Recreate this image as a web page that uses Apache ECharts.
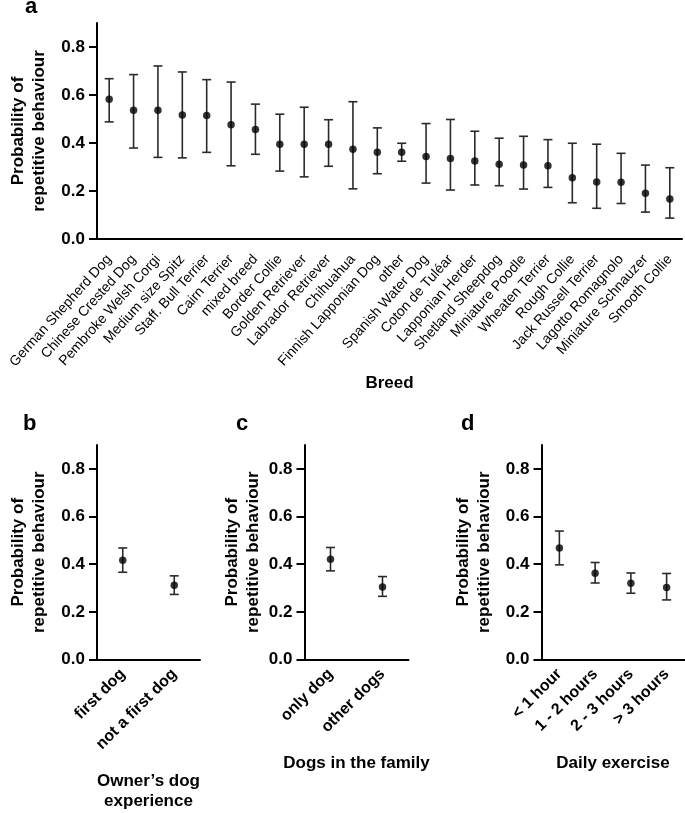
<!DOCTYPE html>
<html>
<head>
<meta charset="utf-8">
<script src="https://cdn.jsdelivr.net/npm/echarts@6/dist/echarts.min.js"></script>
<style>
html,body{margin:0;padding:0;background:#fff;}
#chart{width:685px;height:813px;}
</style>
</head>
<body>
<div id="chart"></div>
<script>
// Panel a: breed
const breeds = ["German Shepherd Dog","Chinese Crested Dog","Pembroke Welsh Corgi","Medium size Spitz","Staff. Bull Terrier","Cairn Terrier","mixed breed","Border Collie","Golden Retriever","Labrador Retriever","Chihuahua","Finnish Lapponian Dog","other","Spanish Water Dog","Coton de Tuléar","Lapponian Herder","Shetland Sheepdog","Miniature Poodle","Wheaten Terrier","Rough Collie","Jack Russell Terrier","Lagotto Romagnolo","Miniature Schnauzer","Smooth Collie"];
const breedMean = [0.582,0.536,0.536,0.517,0.515,0.476,0.456,0.395,0.395,0.395,0.374,0.361,0.361,0.344,0.335,0.325,0.311,0.308,0.305,0.255,0.237,0.236,0.191,0.167];
const breedLow  = [0.488,0.379,0.340,0.338,0.361,0.305,0.353,0.283,0.259,0.303,0.209,0.272,0.324,0.233,0.204,0.225,0.222,0.208,0.215,0.151,0.128,0.148,0.112,0.087];
const breedHigh = [0.668,0.685,0.721,0.696,0.664,0.654,0.562,0.520,0.549,0.497,0.572,0.463,0.399,0.481,0.498,0.449,0.420,0.428,0.414,0.399,0.395,0.357,0.308,0.297];

// Panel b: owner's dog experience
const expCats = ["first dog","not a first dog"];
const expMean = [0.416,0.312];
const expLow  = [0.366,0.273];
const expHigh = [0.468,0.351];

// Panel c: dogs in the family
const famCats = ["only dog","other dogs"];
const famMean = [0.421,0.304];
const famLow  = [0.372,0.265];
const famHigh = [0.470,0.348];

// Panel d: daily exercise
const exCats = ["< 1 hour","1 - 2 hours","2 - 3 hours","> 3 hours"];
const exMean = [0.468,0.362,0.320,0.302];
const exLow  = [0.397,0.321,0.278,0.250];
const exHigh = [0.539,0.407,0.363,0.361];

const yTicks = [0,0.2,0.4,0.6,0.8];
const yTitle = "Probability of\nrepetitive behaviour";

const FONT = "'Liberation Sans', Arial, Helvetica, sans-serif";

const chart = echarts.init(document.getElementById('chart'), null, {renderer:'canvas'});

const grids = [
  {left:93, top:23, width:589, height:216},
  {left:97, top:445, width:103, height:214.5},
  {left:304.5, top:445, width:104, height:214.5},
  {left:541.5, top:445, width:143, height:214.5}
];

const xNames = ["Breed","Owner\u2019s dog\nexperience","Dogs in the family","Daily exercise"];
const xCats = [breeds, expCats, famCats, exCats];
const xGaps = [134, 112, 94, 94];
const yGaps = [47, 47, 41, 47];
const catFont = [
  {fontSize:14, fontWeight:'normal', rotate:48, margin:18},
  {fontSize:16, fontWeight:'bold', rotate:45, margin:12},
  {fontSize:16, fontWeight:'bold', rotate:45, margin:12},
  {fontSize:16, fontWeight:'bold', rotate:45, margin:12}
];

const xAxes = xCats.map((cats,i)=>({
  type:'category', gridIndex:i, data:cats,
  boundaryGap:true,
  name:xNames[i], nameLocation:'middle', nameGap:xGaps[i],
  nameTextStyle:{fontFamily:FONT, fontSize:17, fontWeight:'bold', color:'#000', lineHeight:20, verticalAlign:'top'},
  axisLine:{lineStyle:{color:'#000', width:2}},
  axisTick:{alignWithLabel:true, length:8, lineStyle:{color:'#000', width:2}},
  axisLabel:{rotate:catFont[i].rotate, interval:0, margin:catFont[i].margin, color:'#000', fontFamily:FONT, fontSize:catFont[i].fontSize, fontWeight:catFont[i].fontWeight},
  splitLine:{show:false}
}));

const yAxes = grids.map((g,i)=>({
  type:'value', gridIndex:i, min:0, max:0.9,
  name:yTitle, nameLocation:'middle', nameGap:yGaps[i], nameRotate:90,
  nameTextStyle:{fontFamily:FONT, fontSize:17, fontWeight:'bold', color:'#000', lineHeight:21},
  axisLine:{show:true, lineStyle:{color:'#000', width:2}},
  axisTick:{show:true, length:8, lineStyle:{color:'#000', width:2}, customValues:yTicks},
  axisLabel:{margin:12, color:'#000', fontFamily:FONT, fontSize:17, fontWeight:'bold',
    customValues:yTicks, formatter:(v)=>v.toFixed(1)},
  splitLine:{show:false}
}));

function errSeries(i, low, high, capHalf){
  const data = low.map((l,k)=>[k,l,high[k]]);
  return {
    type:'custom', xAxisIndex:i, yAxisIndex:i, data:data, silent:true,
    renderItem:function(params, api){
      const x = api.value(0);
      const pLo = api.coord([x, api.value(1)]);
      const pHi = api.coord([x, api.value(2)]);
      const st = {stroke:'#2a2a2a', lineWidth:1.6};
      return {type:'group', children:[
        {type:'line', shape:{x1:pLo[0], y1:pLo[1], x2:pHi[0], y2:pHi[1]}, style:st},
        {type:'line', shape:{x1:pLo[0]-capHalf, y1:pLo[1], x2:pLo[0]+capHalf, y2:pLo[1]}, style:st},
        {type:'line', shape:{x1:pHi[0]-capHalf, y1:pHi[1], x2:pHi[0]+capHalf, y2:pHi[1]}, style:st}
      ]};
    },
    encode:{x:0, y:[1,2]},
    z:2
  };
}
function dotSeries(i, mean){
  return {
    type:'scatter', xAxisIndex:i, yAxisIndex:i,
    data:mean.map((m,k)=>[k,m]),
    symbol:'circle', symbolSize:7.5,
    itemStyle:{color:'#000'}, silent:true, z:3
  };
}

const series = [
  errSeries(0, breedLow, breedHigh, 4.5), dotSeries(0, breedMean),
  errSeries(1, expLow, expHigh, 4.5), dotSeries(1, expMean),
  errSeries(2, famLow, famHigh, 4.5), dotSeries(2, famMean),
  errSeries(3, exLow, exHigh, 4.5), dotSeries(3, exMean)
];

const panelLabels = [
  {t:'a', x:25, y:-4},
  {t:'b', x:23, y:413},
  {t:'c', x:236, y:413},
  {t:'d', x:461, y:413}
];

chart.setOption({
  animation:false,
  backgroundColor:'#fff',
  grid:grids.map(g=>Object.assign({containLabel:false}, g)),
  xAxis:xAxes,
  yAxis:yAxes,
  series:series,
  graphic:panelLabels.map(p=>({
    type:'text', left:p.x, top:p.y,
    style:{text:p.t, fontFamily:FONT, fontSize:22, fontWeight:'bold', fill:'#000'}
  }))
});
</script>
</body>
</html>
